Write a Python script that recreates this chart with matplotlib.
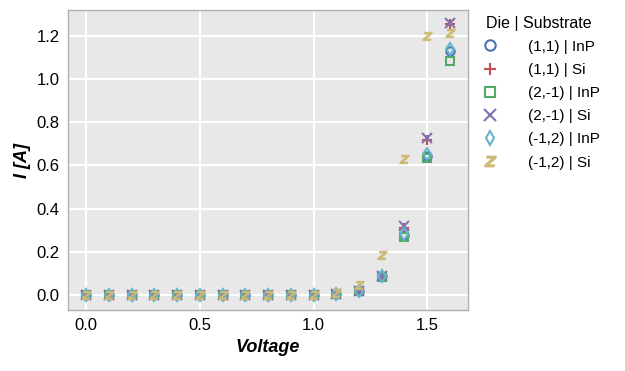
import matplotlib
matplotlib.use("Agg")
import matplotlib.pyplot as plt
from matplotlib.textpath import TextPath
from matplotlib.font_manager import FontProperties
from matplotlib.path import Path

# --- data ---
voltage = [0.0, 0.1, 0.2, 0.3, 0.4, 0.5, 0.6, 0.7, 0.8, 0.9, 1.0, 1.1, 1.2, 1.3, 1.4, 1.5, 1.6]
zeros = [0.0] * 11

i_11_inp = zeros + [0.005, 0.02, 0.09, 0.28, 0.645, 1.13]
i_11_si = zeros + [0.005, 0.02, 0.09, 0.31, 0.72, 1.255]
i_2m1_inp = zeros + [0.005, 0.018, 0.085, 0.27, 0.635, 1.085]
i_2m1_si = zeros + [0.005, 0.02, 0.09, 0.32, 0.728, 1.26]
i_m12_inp = zeros + [0.005, 0.02, 0.09, 0.285, 0.655, 1.14]
i_m12_si = zeros + [0.01, 0.045, 0.185, 0.63, 1.2, 1.215]

labels = ["(1,1) | InP", "(1,1) | Si", "(2,-1) | InP", "(2,-1) | Si", "(-1,2) | InP", "(-1,2) | Si"]
series = [i_11_inp, i_11_si, i_2m1_inp, i_2m1_si, i_m12_inp, i_m12_si]

colors = ["#4C72B0", "#C44E52", "#55A868", "#8172B2", "#64B5CD", "#CCB974"]

# slanted bold "z" marker for the last series
zp = TextPath((0, 0), "z", prop=FontProperties(family="DejaVu Sans", weight="bold", style="italic"))
verts = zp.vertices.copy()
verts -= (verts.max(axis=0) + verts.min(axis=0)) / 2
z_marker = Path(verts, zp.codes)

markers = ["o", "+", "s", "x", "d", z_marker]
hollow = [True, False, True, False, True, False]

plt.rcParams["font.family"] = ["Liberation Sans", "DejaVu Sans"]

fig = plt.figure(figsize=(6.25, 3.71), dpi=100)
ax = fig.add_axes([0.109, 0.164, 0.64, 0.809])
ax.set_facecolor("#E8E8E8")
ax.grid(True, color="white", lw=1.5)
ax.set_axisbelow(True)
for sp in ax.spines.values():
    sp.set_color("#B0B0B0")
    sp.set_linewidth(1.0)

for y, lab, c, m, h in zip(series, labels, colors, markers, hollow):
    if h:
        ax.plot(voltage, y, ls="none", marker=m, ms=6, mfc="none", mec=c, mew=1.5, label=lab)
    elif isinstance(m, Path):
        ax.plot(voltage, y, ls="none", marker=m, ms=7, color=c, mec=c, mew=0.3, label=lab)
    else:
        ax.plot(voltage, y, ls="none", marker=m, ms=7, color=c, mew=1.5, label=lab)

ax.set_xlim(-0.08, 1.68)
ax.set_ylim(-0.07, 1.32)
ax.set_xticks([0.0, 0.5, 1.0, 1.5])
ax.set_yticks([0.0, 0.2, 0.4, 0.6, 0.8, 1.0, 1.2])
ax.tick_params(length=0, labelsize=12, pad=6)
ax.set_xlabel("Voltage", fontsize=13, fontweight="bold", style="italic")
ax.set_ylabel("I [A]", fontsize=13, fontweight="bold", style="italic")

fig.legend(loc="upper left", bbox_to_anchor=(0.755, 0.995), frameon=False,
           title="Die | Substrate", title_fontsize=11.5, fontsize=11,
           alignment="left", handlelength=0.6, handletextpad=2.2,
           labelspacing=0.6, markerscale=1.25)

fig.savefig("out.png", dpi=100)
